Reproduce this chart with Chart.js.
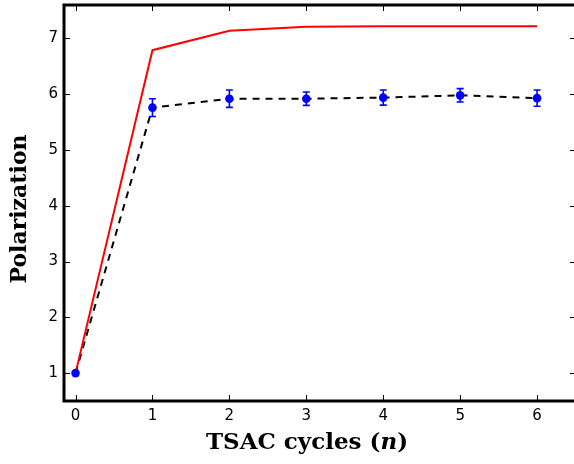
<!DOCTYPE html>
<html>
<head>
<meta charset="utf-8">
<title>Polarization vs TSAC cycles</title>
<script src="https://cdn.jsdelivr.net/npm/chart.js@4.4.1/dist/chart.umd.min.js"></script>
<style>
  html, body { margin: 0; padding: 0; background: #fff; }
  #wrap { width: 574px; height: 464px; }
</style>
</head>
<body>
<div id="wrap"><canvas id="polChart" width="574" height="464"></canvas></div>
<script>
// TSAC cycle number
const cycles = [0, 1, 2, 3, 4, 5, 6];
// calculated polarization (red curve)
const modelPol = [1.0, 6.79, 7.14, 7.21, 7.22, 7.22, 7.22];
// measured polarization and its error
const measPol = [1.0, 5.76, 5.92, 5.92, 5.94, 5.98, 5.93];
const measErr = [0, 0.16, 0.155, 0.12, 0.135, 0.12, 0.145];

const xTicks = [0, 1, 2, 3, 4, 5, 6];
const yTicks = [1, 2, 3, 4, 5, 6, 7];

const serif = '"DejaVu Serif", serif';

const pairs = (xs, ys) => xs.map((x, i) => ({ x: x, y: ys[i] }));

// vertical error bars with caps on the measured points
const errorBars = {
  id: 'errorBars',
  afterDatasetsDraw(chart) {
    const meta = chart.getDatasetMeta(2);
    const y = chart.scales.y;
    const ctx = chart.ctx;
    ctx.save();
    ctx.strokeStyle = '#0000ff';
    ctx.lineWidth = 1.6;
    meta.data.forEach((pt, i) => {
      const e = measErr[i];
      if (!e) return;
      const top = y.getPixelForValue(measPol[i] + e);
      const bot = y.getPixelForValue(measPol[i] - e);
      ctx.beginPath();
      ctx.moveTo(pt.x, top); ctx.lineTo(pt.x, bot);
      ctx.moveTo(pt.x - 3.5, top); ctx.lineTo(pt.x + 3.5, top);
      ctx.moveTo(pt.x - 3.5, bot); ctx.lineTo(pt.x + 3.5, bot);
      ctx.stroke();
    });
    ctx.restore();
  }
};

// heavy box + inward ticks on all four sides, then the axis titles
const frame = {
  id: 'frame',
  afterDraw(chart) {
    const { ctx, chartArea: a, scales: { x, y } } = chart;
    ctx.save();
    ctx.strokeStyle = '#000';
    ctx.lineWidth = 1;
    ctx.beginPath();
    xTicks.forEach(v => {
      const px = Math.round(x.getPixelForValue(v)) + 0.5;
      ctx.moveTo(px, a.top); ctx.lineTo(px, a.top + 6);
      ctx.moveTo(px, a.bottom); ctx.lineTo(px, a.bottom - 6);
    });
    yTicks.forEach(v => {
      const py = Math.round(y.getPixelForValue(v)) + 0.5;
      ctx.moveTo(a.left, py); ctx.lineTo(a.left + 6, py);
      ctx.moveTo(a.right + 2, py); ctx.lineTo(a.right - 4, py);
    });
    ctx.stroke();
    ctx.lineWidth = 3;
    ctx.strokeRect(a.left, a.top, a.right + 2 - a.left, a.bottom - a.top);

    // x title: "TSAC cycles (n)" with italic n
    ctx.fillStyle = '#000';
    ctx.textBaseline = 'alphabetic';
    ctx.textAlign = 'left';
    const parts = [
      ['TSAC cycles (', 'bold 23px ' + serif],
      ['n', 'italic bold 23px ' + serif],
      [')', 'bold 23px ' + serif]
    ];
    let w = 0;
    parts.forEach(p => { ctx.font = p[1]; w += ctx.measureText(p[0]).width; });
    let cx = 307 - w / 2;
    parts.forEach(p => {
      ctx.font = p[1];
      ctx.fillText(p[0], cx, 449);
      cx += ctx.measureText(p[0]).width;
    });

    // y title
    ctx.translate(20, 209);
    ctx.rotate(-Math.PI / 2);
    ctx.textAlign = 'center';
    ctx.textBaseline = 'middle';
    ctx.font = 'bold 22px ' + serif;
    ctx.fillText('Polarization', 0, 0);
    ctx.restore();
  }
};

// drop the label overhang padding so the plot box keeps its size
const noPad = s => {
  s.paddingTop = 0; s.paddingBottom = 0;
  s.paddingLeft = 0; s.paddingRight = 0;
};

const tickFont = { family: '"DejaVu Sans", sans-serif', size: 15 };

const config = {
  type: 'line',
  data: {
    datasets: [
      {
        label: 'measured (line)',
        data: pairs(cycles, measPol),
        borderColor: '#000',
        borderWidth: 2,
        borderDash: [7, 6],
        pointRadius: 0,
        fill: false,
        order: 3
      },
      {
        label: 'calculated',
        data: pairs(cycles, modelPol),
        borderColor: '#ff0000',
        borderWidth: 2,
        pointRadius: 0,
        fill: false,
        order: 2
      },
      {
        label: 'measured',
        data: pairs(cycles, measPol),
        showLine: false,
        pointRadius: 4.3,
        pointBorderWidth: 0,
        pointBackgroundColor: '#0000ff',
        order: 1
      }
    ]
  },
  options: {
    responsive: false,
    animation: false,
    layout: { autoPadding: false, padding: { top: 5, right: 0, left: 0, bottom: 0 } },
    plugins: { legend: { display: false }, tooltip: { enabled: false } },
    scales: {
      x: {
        type: 'linear',
        min: -0.15,
        max: 6.48,
        grid: { display: false, drawTicks: false },
        border: { display: false },
        afterBuildTicks: s => { s.ticks = xTicks.map(v => ({ value: v })); },
        afterFit: s => { s.height = 63; noPad(s); },
        ticks: { font: tickFont, color: '#000', padding: 6, autoSkip: false, maxRotation: 0 }
      },
      y: {
        type: 'linear',
        min: 0.5,
        max: 7.6,
        grid: { display: false, drawTicks: false },
        border: { display: false },
        afterBuildTicks: s => { s.ticks = yTicks.map(v => ({ value: v })); },
        afterFit: s => { s.width = 64; noPad(s); },
        ticks: { font: tickFont, color: '#000', padding: 6 }
      }
    }
  },
  plugins: [errorBars, frame]
};

const polChart = new Chart(document.getElementById('polChart'), config);
</script>
</body>
</html>
